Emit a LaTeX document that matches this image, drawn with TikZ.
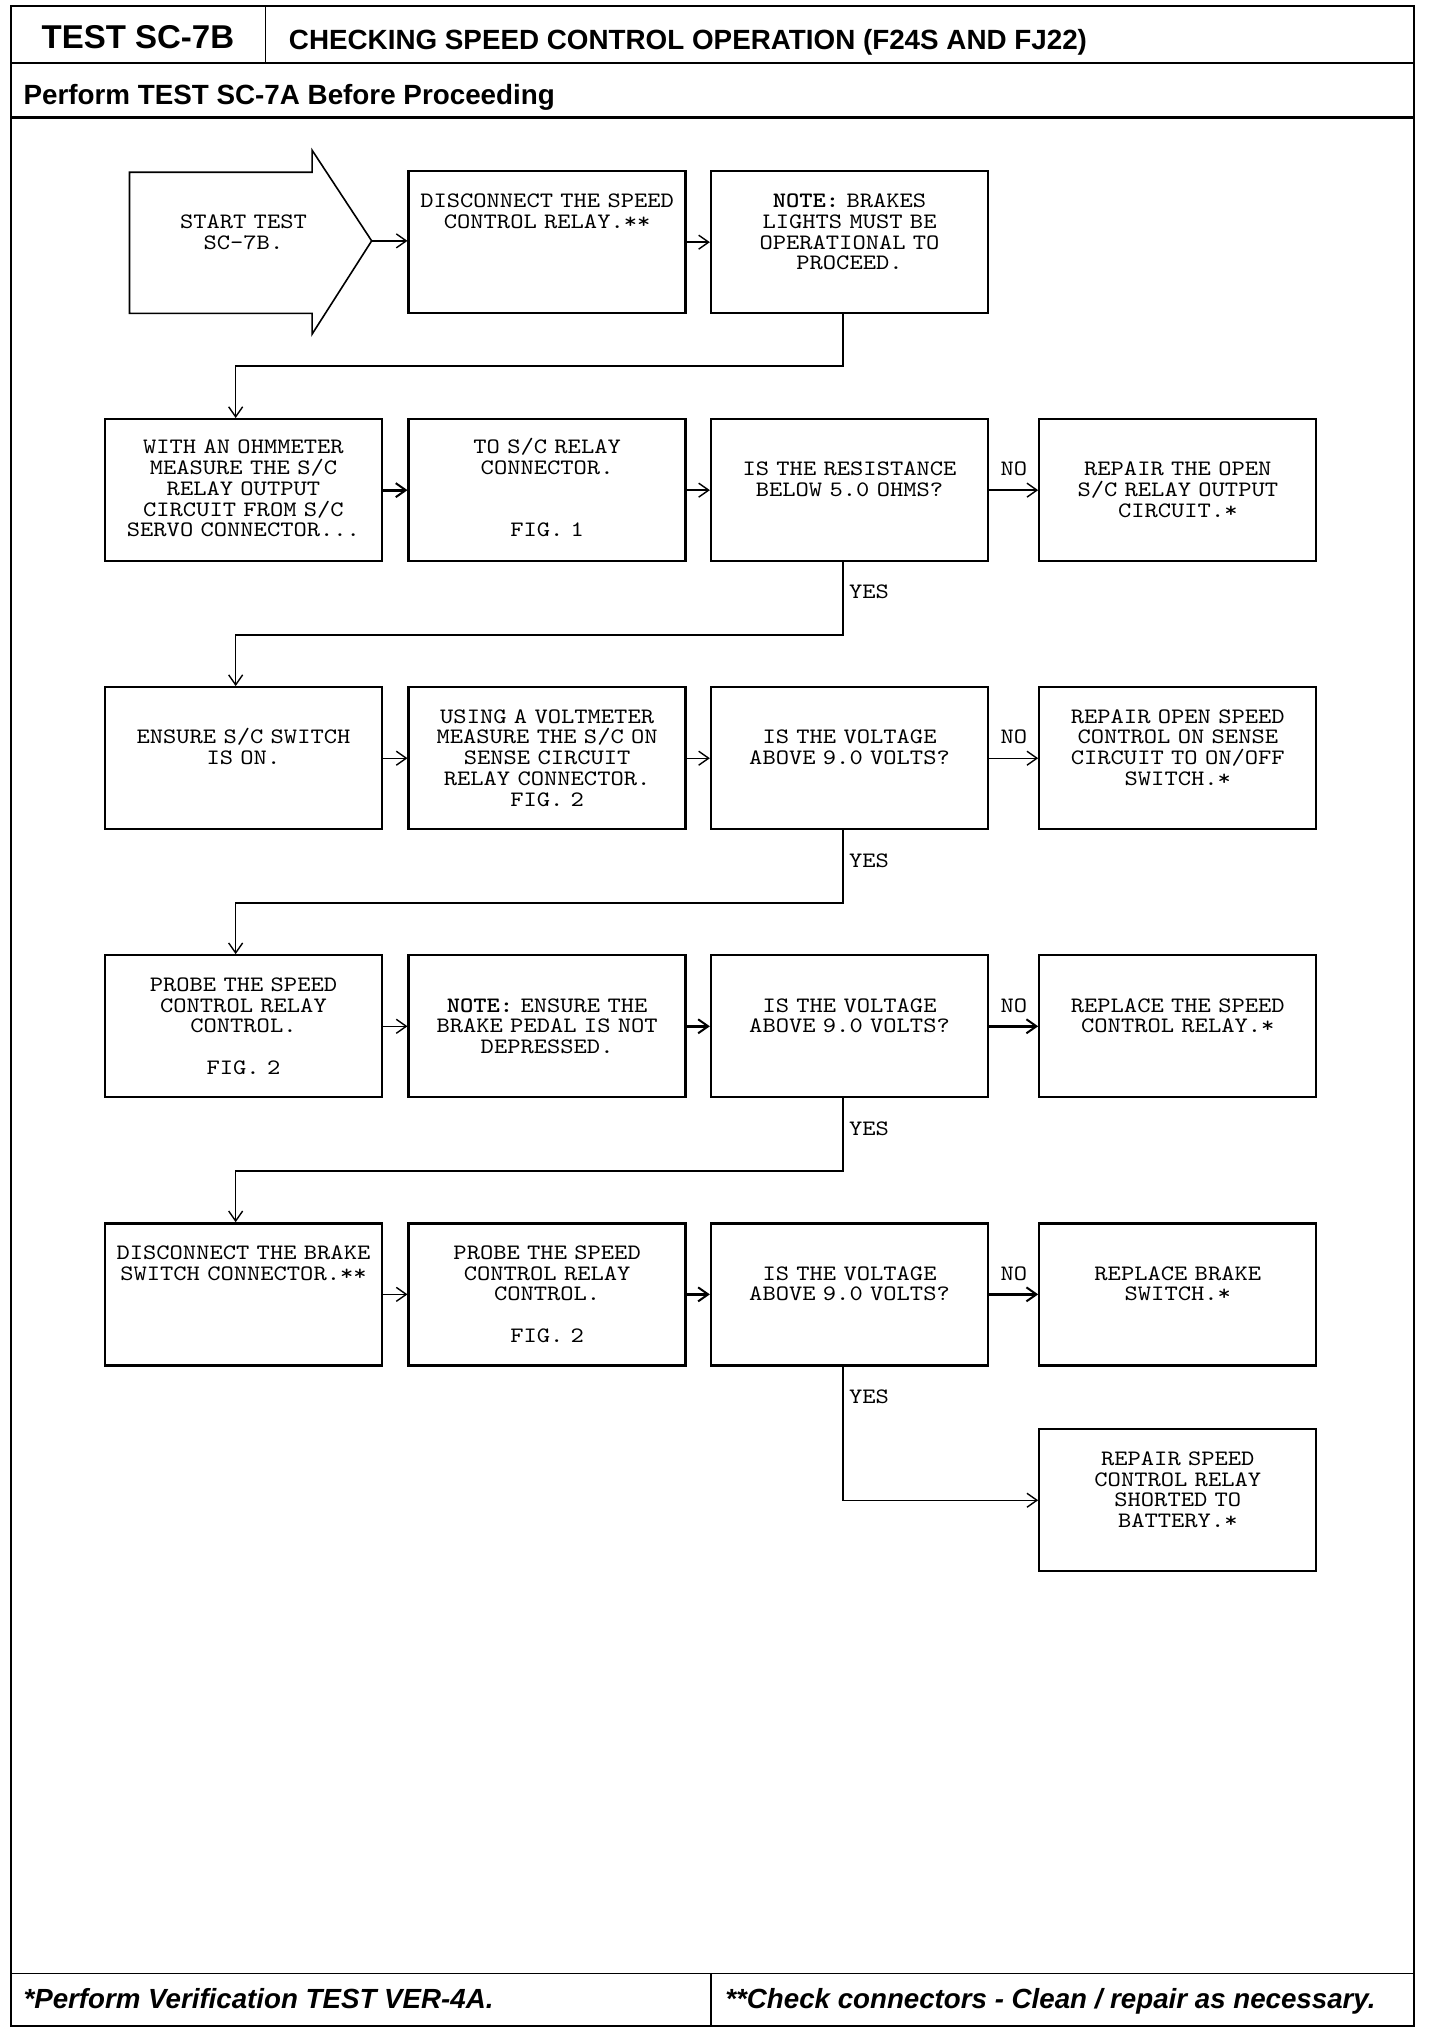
\documentclass[tikz,border=0pt]{standalone}
\usepackage{fontspec}
\setmainfont{Liberation Sans}
\newfontfamily\boxfont{lmmono10-regular}[Extension=.otf, BoldFont=lmmonolt10-bold, FakeStretch=1.15]
\usetikzlibrary{arrows.meta}
\begin{document}
\begin{tikzpicture}[x=1.295pt,y=-1.295pt,
  box/.style={draw, line width=2.3pt, minimum width=277pt, minimum height=142pt, inner sep=0pt},
  txt/.style={font=\fontsize{22}{20.7}\selectfont\boxfont, text width=290pt, align=center, anchor=base, inner sep=0pt},
  lbl/.style={font=\fontsize{22}{20.7}\selectfont\boxfont, anchor=base, inner sep=0pt},
  arr/.style={line width=1.4pt, -{Straight Barb[length=10pt,width=14pt,line width=1.4pt]}},
  arrb/.style={line width=3pt, -{Straight Barb[length=10pt,width=14pt,line width=2pt]}},
  frame/.style={line width=1.6pt},
  head/.style={font=\fontsize{27.8}{30}\selectfont\bfseries, anchor=base west, inner sep=0pt},
  foot/.style={font=\fontsize{27.7}{30}\selectfont\bfseries\itshape, anchor=base west, inner sep=0pt}
]
\useasboundingbox (0,0) rectangle (1111.97,1570.66);
% frame
\draw[frame] (8.5,4.6) rectangle (1092,1564.5);
\draw[frame] (8.5,48.6) -- (1092,48.6);
\draw[frame] (205,4.6) -- (205,48.6);
\draw[line width=3pt] (8.5,91) -- (1092,91);
\draw[frame] (8.5,1524) -- (1092,1524);
\draw[frame] (549,1524) -- (549,1564.5);
% header texts
\node[font=\fontsize{33}{36}\selectfont\bfseries, anchor=base, inner sep=0pt] (hdtest) at (106.5,37.5) {TEST SC-7B};
\node[head] (hdtitle) at (223,38.5) {CHECKING SPEED CONTROL OPERATION (F24S AND FJ22)};
\node[head] (hdpre) at (18,81) {Perform TEST SC-7A Before Proceeding};
\node[foot] (ftl) at (18,1551) {*Perform Verification TEST VER-4A.};
\node[foot] (ftr) at (560,1551) {**Check connectors - Clean / repair as necessary.};

% start arrow
\draw[line width=1.6pt] (100,133) -- (241,133) -- (241,116) -- (287,186) -- (241,258) -- (241,242) -- (100,242) -- cycle;
\coordinate (st) at (287,186);
\node[txt] (start) at (188,176.5) {START TEST\\SC-7B.};

% row 0
\node[box] (b02) at (422.5,187) {};
\node[box] (b03) at (656,187) {};
\node[txt] (t02) at (422.5,160.5) {DISCONNECT THE SPEED\\CONTROL RELAY.**};
\node[txt] (t03) at (656,160.5) {\textbf{NOTE:} BRAKES\\LIGHTS MUST BE\\OPERATIONAL TO\\PROCEED.};

% row 1
\node[box] (a1) at (188,378.5) {};
\node[box] (b1) at (422.5,378.5) {};
\node[box] (c1) at (656,378.5) {};
\node[box] (d1) at (909.5,378.5) {};
\node[txt] (ta1) at (188,350.5) {WITH AN OHMMETER\\MEASURE THE S/C\\RELAY OUTPUT\\CIRCUIT FROM S/C\\SERVO CONNECTOR...};
\node[txt] (tb1) at (422.5,350.5) {TO S/C RELAY\\CONNECTOR.\\\mbox{}\\\mbox{}\\FIG. 1};
\node[txt] (tc1) at (656,367.5) {IS THE RESISTANCE\\BELOW 5.0 OHMS?};
\node[txt] (td1) at (909.5,367.5) {REPAIR THE OPEN\\S/C RELAY OUTPUT\\CIRCUIT.*};

% row 2
\node[box] (a2) at (188,585.5) {};
\node[box] (b2) at (422.5,585.5) {};
\node[box] (c2) at (656,585.5) {};
\node[box] (d2) at (909.5,585.5) {};
\node[txt] (ta2) at (188,574.5) {ENSURE S/C SWITCH\\IS ON.};
\node[txt] (tb2) at (422.5,558.5) {USING A VOLTMETER\\MEASURE THE S/C ON\\SENSE CIRCUIT\\RELAY CONNECTOR.\\FIG. 2};
\node[txt] (tc2) at (656,574.5) {IS THE VOLTAGE\\ABOVE 9.0 VOLTS?};
\node[txt] (td2) at (909.5,558.5) {REPAIR OPEN SPEED\\CONTROL ON SENSE\\CIRCUIT TO ON/OFF\\SWITCH.*};

% row 3
\node[box] (a3) at (188,792.5) {};
\node[box] (b3) at (422.5,792.5) {};
\node[box] (c3) at (656,792.5) {};
\node[box] (d3) at (909.5,792.5) {};
\node[txt] (ta3) at (188,765.5) {PROBE THE SPEED\\CONTROL RELAY\\CONTROL.\\\mbox{}\\FIG. 2};
\node[txt] (tb3) at (422.5,781.5) {\textbf{NOTE:} ENSURE THE\\BRAKE PEDAL IS NOT\\DEPRESSED.};
\node[txt] (tc3) at (656,781.5) {IS THE VOLTAGE\\ABOVE 9.0 VOLTS?};
\node[txt] (td3) at (909.5,781.5) {REPLACE THE SPEED\\CONTROL RELAY.*};

% row 4
\node[box] (a4) at (188,999.5) {};
\node[box] (b4) at (422.5,999.5) {};
\node[box] (c4) at (656,999.5) {};
\node[box] (d4) at (909.5,999.5) {};
\node[txt] (ta4) at (188,972.5) {DISCONNECT THE BRAKE\\SWITCH CONNECTOR.**};
\node[txt] (tb4) at (422.5,972.5) {PROBE THE SPEED\\CONTROL RELAY\\CONTROL.\\\mbox{}\\FIG. 2};
\node[txt] (tc4) at (656,988.5) {IS THE VOLTAGE\\ABOVE 9.0 VOLTS?};
\node[txt] (td4) at (909.5,988.5) {REPLACE BRAKE\\SWITCH.*};

% row 5
\node[box] (d5) at (909.5,1158.5) {};
\node[txt] (td5) at (909.5,1131.5) {REPAIR SPEED\\CONTROL RELAY\\SHORTED TO\\BATTERY.*};

% connectors row 0
\draw[arr] (st) -- (st -| b02.west);
\draw[arr] (b02.east) -- (b03.west);
\draw[arr] ([xshift=-6.5pt]b03.south) -- ++(0,40) -| ([xshift=-7.8pt]a1.north);

% row 1
\draw[arrb] (a1.east) -- (b1.west);
\draw[arr] (b1.east) -- (c1.west);
\draw[arr] (c1.east) -- (d1.west);
\node[lbl] (no1) at (783,367.5) {NO};
\draw[arr] ([xshift=-6.5pt]c1.south) -- ++(0,56) -| ([xshift=-7.8pt]a2.north);
\node[lbl] (yes1) at (671,462.5) {YES};

% row 2
\draw[arr] (a2.east) -- (b2.west);
\draw[arr] (b2.east) -- (c2.west);
\draw[arr] (c2.east) -- (d2.west);
\node[lbl] (no2) at (783,574.5) {NO};
\draw[arr] ([xshift=-6.5pt]c2.south) -- ++(0,56) -| ([xshift=-7.8pt]a3.north);
\node[lbl] (yes2) at (671,669.5) {YES};

% row 3
\draw[arr] (a3.east) -- (b3.west);
\draw[arrb] (b3.east) -- (c3.west);
\draw[arrb] (c3.east) -- (d3.west);
\node[lbl] (no3) at (783,781.5) {NO};
\draw[arr] ([xshift=-6.5pt]c3.south) -- ++(0,56) -| ([xshift=-7.8pt]a4.north);
\node[lbl] (yes3) at (671,876.5) {YES};

% row 4
\draw[arr] (a4.east) -- (b4.west);
\draw[arrb] (b4.east) -- (c4.west);
\draw[arrb] (c4.east) -- (d4.west);
\node[lbl] (no4) at (783,988.5) {NO};
\draw[arr] ([xshift=-6.5pt]c4.south) |- (d5.west);
\node[lbl] (yes4) at (671,1083.5) {YES};
\end{tikzpicture}
\end{document}
